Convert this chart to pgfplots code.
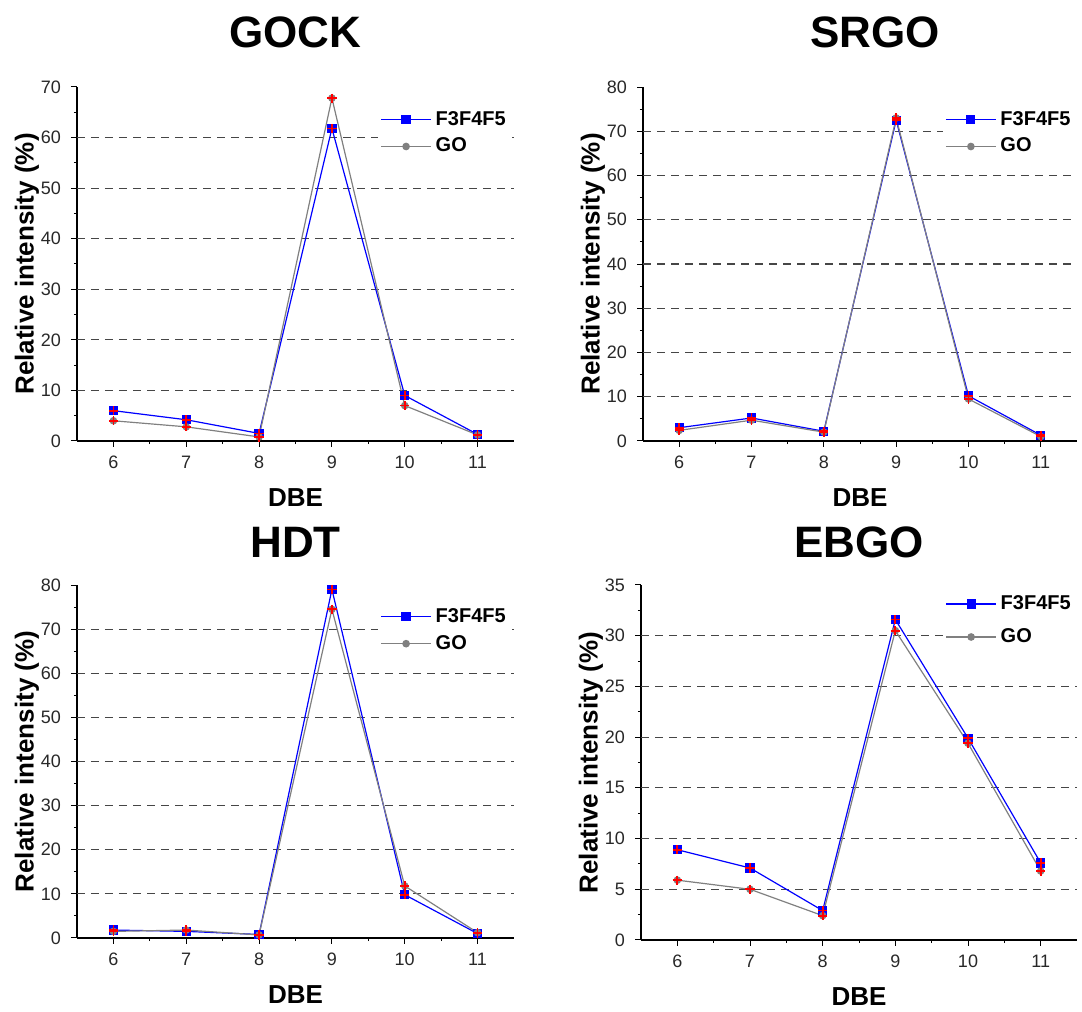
\documentclass[border=0pt]{standalone}
\usepackage{pgfplots}
\pgfplotsset{compat=1.18}
\usepackage{fontspec}
\setmainfont{Liberation Sans}
\definecolor{tickgray}{RGB}{40,40,40}
\definecolor{gogray}{RGB}{128,128,128}
\definecolor{gridgray}{RGB}{70,70,70}
\pgfplotsset{
 panel/.style={
  scale only axis,
  axis lines=left,
  axis line style={-, black, line width=0.6pt},
  xmin=5.5, xmax=11.5,
  xtick={6,...,11},
  minor x tick num=1,
  minor y tick num=1,
  tick align=outside,
  major tick length=3pt, minor tick length=1.6pt,
  tick style={black, line width=0.5pt},
  ticklabel style={font=\fontsize{9}{10}\selectfont, text=tickgray},
  yticklabel style={xshift=-1.5pt},
  xticklabel style={yshift=-0.8pt},
  /pgf/number format/assume math mode=true,
  xlabel={DBE}, ylabel={Relative intensity (\%)},
  label style={font=\bfseries\fontsize{13}{15}\selectfont},
  xlabel style={at={(axis description cs:0.5,0)}, anchor=center, yshift=-28.5pt},
  ylabel style={at={(axis description cs:0,0.5)}, anchor=center, yshift=25pt},
  title style={font=\bfseries\fontsize{22}{26}\selectfont, at={(axis description cs:0.5,1)}, anchor=center},
  extra y tick labels={},
  extra y tick style={grid=major, major tick length=0pt},
  major grid style={dash pattern=on 4pt off 3pt, gridgray, line width=0.6pt},
  legend style={draw=none, fill=white, font=\bfseries\fontsize{10}{12}\selectfont, anchor=west, inner sep=1pt, row sep=1pt},
  legend cell align=left,
  legend image code/.code={\draw[mark repeat=2,mark phase=2,##1] plot coordinates {(0pt,0pt)(12.5pt,0pt)(25pt,0pt)};},
 },
 f3/.style={blue, line width=0.6pt, mark=square*, mark size=2pt, mark options={solid, fill=blue}},
 go/.style={gogray, line width=0.6pt, mark=*, mark size=1.6pt, mark options={fill=gogray}},
 err/.style={only marks, red, mark=+, mark size=2.3pt, line width=0.9pt, forget plot},
}
\begin{document}
\begin{tikzpicture}
\path[use as bounding box] (0,0) rectangle (541pt,506pt);
% GOCK
\begin{axis}[panel, at={(38.5pt,285.5pt)}, anchor=south west, width=218.5pt, height=177pt,
  ymin=0, ymax=70, ytick={0,10,...,70}, extra y ticks={10,20,...,60},
  title={GOCK}, title style={yshift=21.5pt},
  legend style={at={(axis description cs:0.689,0.87)}}]
\addplot[f3] coordinates {(6,6.0)(7,4.2)(8,1.5)(9,61.8)(10,9.0)(11,1.3)};
\addlegendentry{F3F4F5}
\addplot[go] coordinates {(6,4.0)(7,2.8)(8,0.8)(9,67.8)(10,7.0)(11,1.2)};
\addlegendentry{GO}
\addplot[err] coordinates {(6,6.0)(7,4.2)(8,1.5)(9,61.8)(10,9.0)(11,1.3)};
\addplot[err] coordinates {(6,4.0)(7,2.8)(8,0.8)(9,67.8)(10,7.0)(11,1.2)};
\end{axis}
% SRGO
\begin{axis}[panel, at={(321.5pt,285.5pt)}, anchor=south west, width=217pt, height=177pt,
  ymin=0, ymax=80, ytick={0,10,...,80}, extra y ticks={10,20,...,70},
  title={SRGO}, title style={yshift=21.5pt, xshift=7.5pt},
  legend style={at={(axis description cs:0.691,0.87)}}]
\addplot[f3] coordinates {(6,3.0)(7,5.2)(8,2.2)(9,72.5)(10,10.2)(11,1.3)};
\addlegendentry{F3F4F5}
\addplot[go] coordinates {(6,2.4)(7,4.7)(8,2.0)(9,73.0)(10,9.5)(11,1.0)};
\addlegendentry{GO}
\addplot[err] coordinates {(6,3.0)(7,5.2)(8,2.2)(9,72.5)(10,10.2)(11,1.3)};
\addplot[err] coordinates {(6,2.4)(7,4.7)(8,2.0)(9,73.0)(10,9.5)(11,1.0)};
\end{axis}
% HDT
\begin{axis}[panel, at={(38.5pt,37pt)}, anchor=south west, width=218.5pt, height=176.5pt,
  ymin=0, ymax=80, ytick={0,10,...,80}, extra y ticks={10,20,...,70},
  title={HDT}, title style={yshift=15.5pt},
  legend style={at={(axis description cs:0.689,0.872)}}]
\addplot[f3] coordinates {(6,1.8)(7,1.5)(8,0.8)(9,79.0)(10,9.8)(11,1.0)};
\addlegendentry{F3F4F5}
\addplot[go] coordinates {(6,1.5)(7,1.8)(8,0.7)(9,74.5)(10,11.8)(11,1.2)};
\addlegendentry{GO}
\addplot[err] coordinates {(6,1.8)(7,1.5)(8,0.8)(9,79.0)(10,9.8)(11,1.0)};
\addplot[err] coordinates {(6,1.5)(7,1.8)(8,0.7)(9,74.5)(10,11.8)(11,1.2)};
\end{axis}
% EBGO
\begin{axis}[panel, at={(320.5pt,36pt)}, anchor=south west, width=218pt, height=177.5pt,
  ymin=0, ymax=35, ytick={0,5,...,35}, extra y ticks={5,10,...,30},
  title={EBGO}, title style={yshift=15.5pt},
  legend style={at={(axis description cs:0.693,0.90)}, row sep=4pt}]
\addplot[f3] coordinates {(6,8.9)(7,7.1)(8,2.9)(9,31.6)(10,19.9)(11,7.6)};
\addlegendentry{F3F4F5}
\addplot[go] coordinates {(6,5.9)(7,5.0)(8,2.4)(9,30.5)(10,19.4)(11,6.8)};
\addlegendentry{GO}
\addplot[err] coordinates {(6,8.9)(7,7.1)(8,2.9)(9,31.6)(10,19.9)(11,7.6)};
\addplot[err] coordinates {(6,5.9)(7,5.0)(8,2.4)(9,30.5)(10,19.4)(11,6.8)};
\end{axis}
\end{tikzpicture}
\end{document}
